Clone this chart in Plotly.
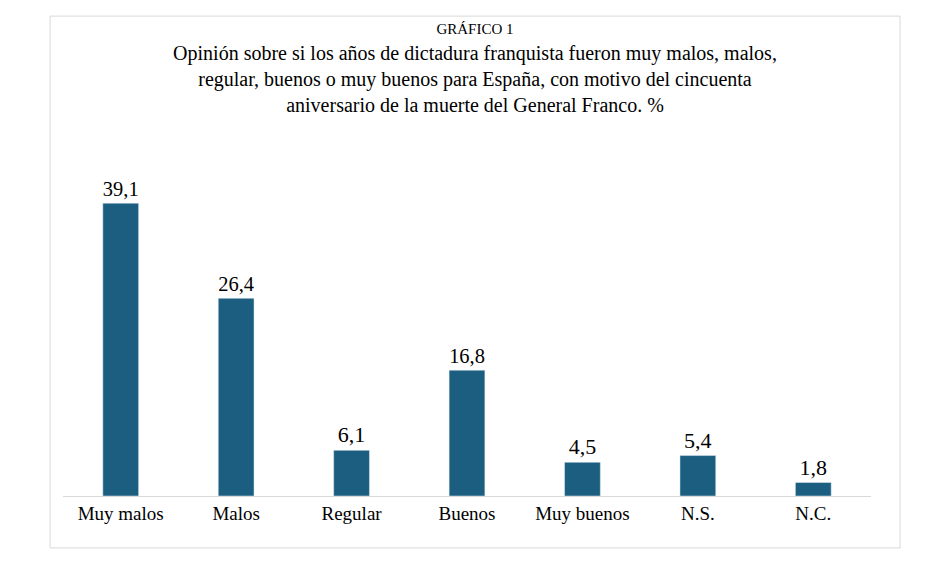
import plotly.graph_objects as go

categories = ["Muy malos", "Malos", "Regular", "Buenos", "Muy buenos", "N.S.", "N.C."]
values = [39.1, 26.4, 6.1, 16.8, 4.5, 5.4, 1.8]
labels = [f"{v:.1f}".replace(".", ",") for v in values]

FONT = "Liberation Serif"

fig = go.Figure(go.Bar(
    x=categories, y=values, text=labels, textposition="outside",
    textfont=dict(family=FONT, size=22, color="black"),
    marker=dict(color="#1b5e80"), cliponaxis=False, hoverinfo="skip"))

title = ("<span style='font-size:15px'>GRÁFICO 1</span><br>"
         "Opinión sobre si los años de dictadura franquista fueron muy malos, malos,<br>"
         "regular, buenos o muy buenos para España, con motivo del cincuenta<br>"
         "aniversario de la muerte del General Franco. %")

fig.update_layout(
    width=934, height=573,
    margin=dict(l=55, r=71, t=142, b=85),
    paper_bgcolor="white", plot_bgcolor="white",
    bargap=0.69, showlegend=False,
    font=dict(family=FONT, color="black"),
    title=dict(text=title, x=0.5, xanchor="center", y=0.955, yanchor="top",
               font=dict(family=FONT, size=20, color="black")),
    xaxis=dict(showline=True, linecolor="#d9d9d9", linewidth=1, ticks="",
               tickfont=dict(family=FONT, size=19, color="black")),
    yaxis=dict(range=[0, 46.2], visible=False, showgrid=False),
    shapes=[dict(type="rect", xref="paper", yref="paper",
                 x0=-0.0160, x1=1.036, y0=-0.150, y1=1.387,
                 line=dict(color="#d9d9d9", width=1))],
)
fig.write_html("out.html")
